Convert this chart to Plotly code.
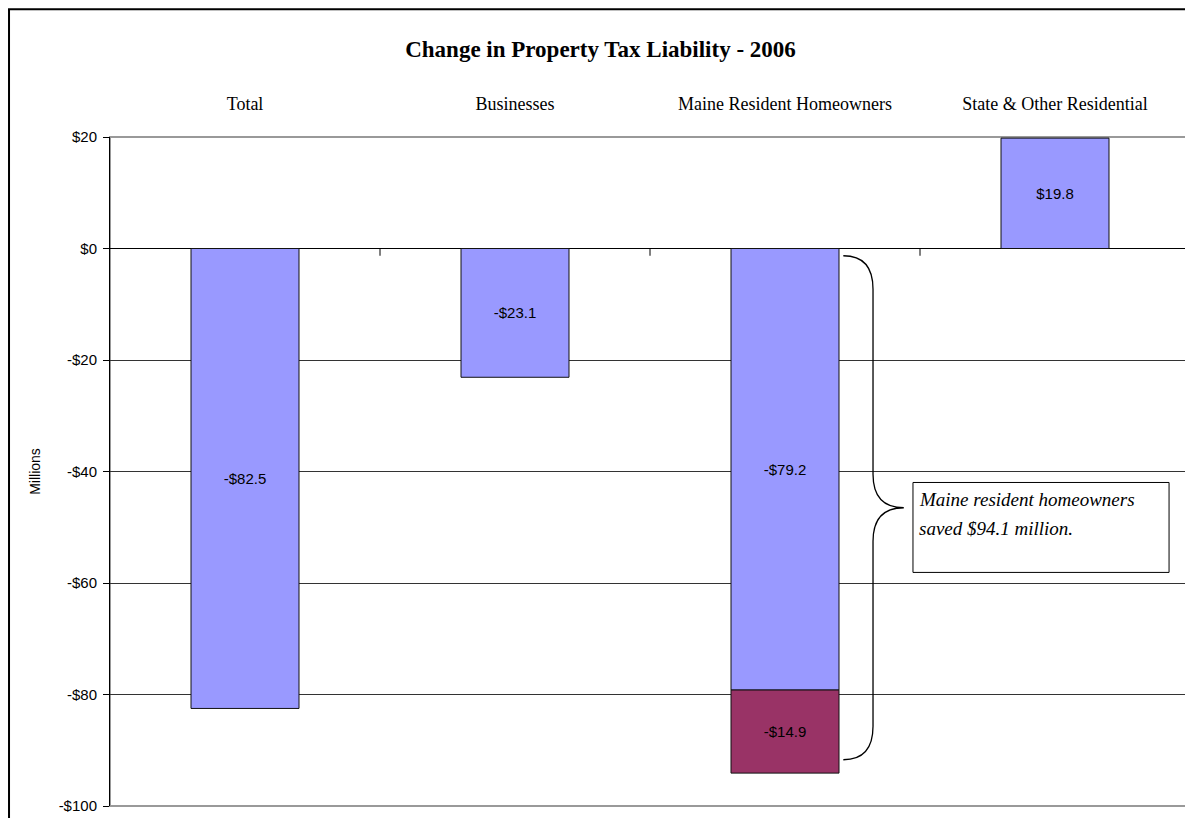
import plotly.graph_objects as go

categories = ["Total", "Businesses", "Maine Resident Homeowners", "State & Other Residential"]
primary_values = [-82.5, -23.1, -79.2, 19.8]
extra_values = [None, None, -14.9, None]
y_tick_vals = [20, 0, -20, -40, -60, -80, -100]
y_tick_text = ["$20", "$0", "-$20", "-$40", "-$60", "-$80", "-$100"]
note_lines = ["Maine resident homeowners", "saved $94.1 million."]


def money(v):
    return ("-$" if v < 0 else "$") + f"{abs(v):.1f}"


fig = go.Figure()
fig.add_trace(go.Bar(
    x=categories, y=primary_values,
    marker=dict(color="#9999FF", line=dict(color="#111111", width=1)),
    text=[money(v) for v in primary_values],
    textposition="inside", insidetextanchor="middle",
    textfont=dict(family="Liberation Sans, Arial", size=15, color="#000000"),
    width=0.4, showlegend=False,
))
fig.add_trace(go.Bar(
    x=categories, y=extra_values,
    marker=dict(color="#993366", line=dict(color="#111111", width=1)),
    text=[money(v) if v is not None else "" for v in extra_values],
    textposition="inside", insidetextanchor="middle",
    textfont=dict(family="Liberation Sans, Arial", size=15, color="#000000"),
    width=0.4, showlegend=False,
))

shapes = []
# plot area frame (grey)
shapes.append(dict(type="rect", xref="paper", yref="paper", x0=0, x1=1, y0=0, y1=1,
                   line=dict(color="#999999", width=2), layer="below"))
# outer chart border
shapes.append(dict(type="rect", xref="paper", yref="paper", x0=-0.0935, x1=1.0015, y0=-0.05, y1=1.191,
                   line=dict(color="#000000", width=2), layer="below"))
# category boundary ticks on the zero line
n = len(categories)
for i in range(1, n):
    shapes.append(dict(type="line", xref="paper", yref="y", x0=i / n, x1=i / n, y0=0, y1=-1.3,
                       line=dict(color="#000000", width=1)))

# brace next to the Maine resident homeowners stack
idx = categories.index("Maine Resident Homeowners")
stack_bottom = primary_values[idx] + extra_values[idx]
ytop = -1.3
ybot = stack_bottom + 2.4
ymid = (ytop + ybot) / 2
xa, xb, xc = 0.679, 0.7065, 0.735
r = 6.0
path = (f"M {xa},{ytop} Q {xb},{ytop} {xb},{ytop - r} "
        f"L {xb},{ymid + r} Q {xb},{ymid} {xc},{ymid} "
        f"Q {xb},{ymid} {xb},{ymid - r} "
        f"L {xb},{ybot + r} Q {xb},{ybot} {xa},{ybot}")
shapes.append(dict(type="path", xref="paper", yref="y", path=path,
                   line=dict(color="#000000", width=1.3)))
# note box
shapes.append(dict(type="rect", xref="paper", yref="y", x0=0.7435, x1=0.9806, y0=-41.97, y1=-58.1,
                   line=dict(color="#000000", width=1), fillcolor="#FFFFFF"))

note_font = dict(family="Liberation Serif, Times New Roman", size=19, color="#000000", style="italic")
annotations = [
    dict(xref="paper", yref="y", x=0.7475, y=-45.0, text=note_lines[0], showarrow=False,
         xanchor="left", yanchor="middle", font=note_font),
    dict(xref="paper", yref="y", x=0.7475, y=-50.2, text=note_lines[1], showarrow=False,
         xanchor="left", yanchor="middle", font=note_font),
]

fig.update_layout(
    width=1185, height=810,
    margin=dict(l=102, r=3, t=129, b=12, autoexpand=False),
    paper_bgcolor="#FFFFFF", plot_bgcolor="#FFFFFF",
    barmode="relative", bargap=0.6,
    title=dict(text="<b>Change in Property Tax Liability - 2006</b>", x=0.5, xanchor="center",
               y=0.95, yanchor="middle", yref="container",
               font=dict(family="Liberation Serif, Times New Roman", size=23, color="#000000")),
    shapes=shapes, annotations=annotations,
    font=dict(family="Liberation Sans, Arial", color="#000000"),
)
fig.update_xaxes(
    side="top", showline=False, showgrid=False, ticks="", ticklabelstandoff=22,
    tickfont=dict(family="Liberation Serif, Times New Roman", size=18, color="#000000"),
    range=[-0.5, n - 0.5], fixedrange=True,
)
fig.update_yaxes(
    range=[-100, 20], tickvals=y_tick_vals, ticktext=y_tick_text,
    showgrid=True, gridcolor="#333333", gridwidth=1,
    zeroline=True, zerolinecolor="#000000", zerolinewidth=1,
    showline=True, linecolor="#000000", linewidth=1,
    ticks="outside", ticklen=6, tickcolor="#000000", ticklabelstandoff=3,
    tickfont=dict(family="Liberation Sans, Arial", size=15, color="#000000"),
    title=dict(text="Millions", standoff=14,
               font=dict(family="Liberation Sans, Arial", size=14, color="#000000")),
)

fig.write_html("out.html")
